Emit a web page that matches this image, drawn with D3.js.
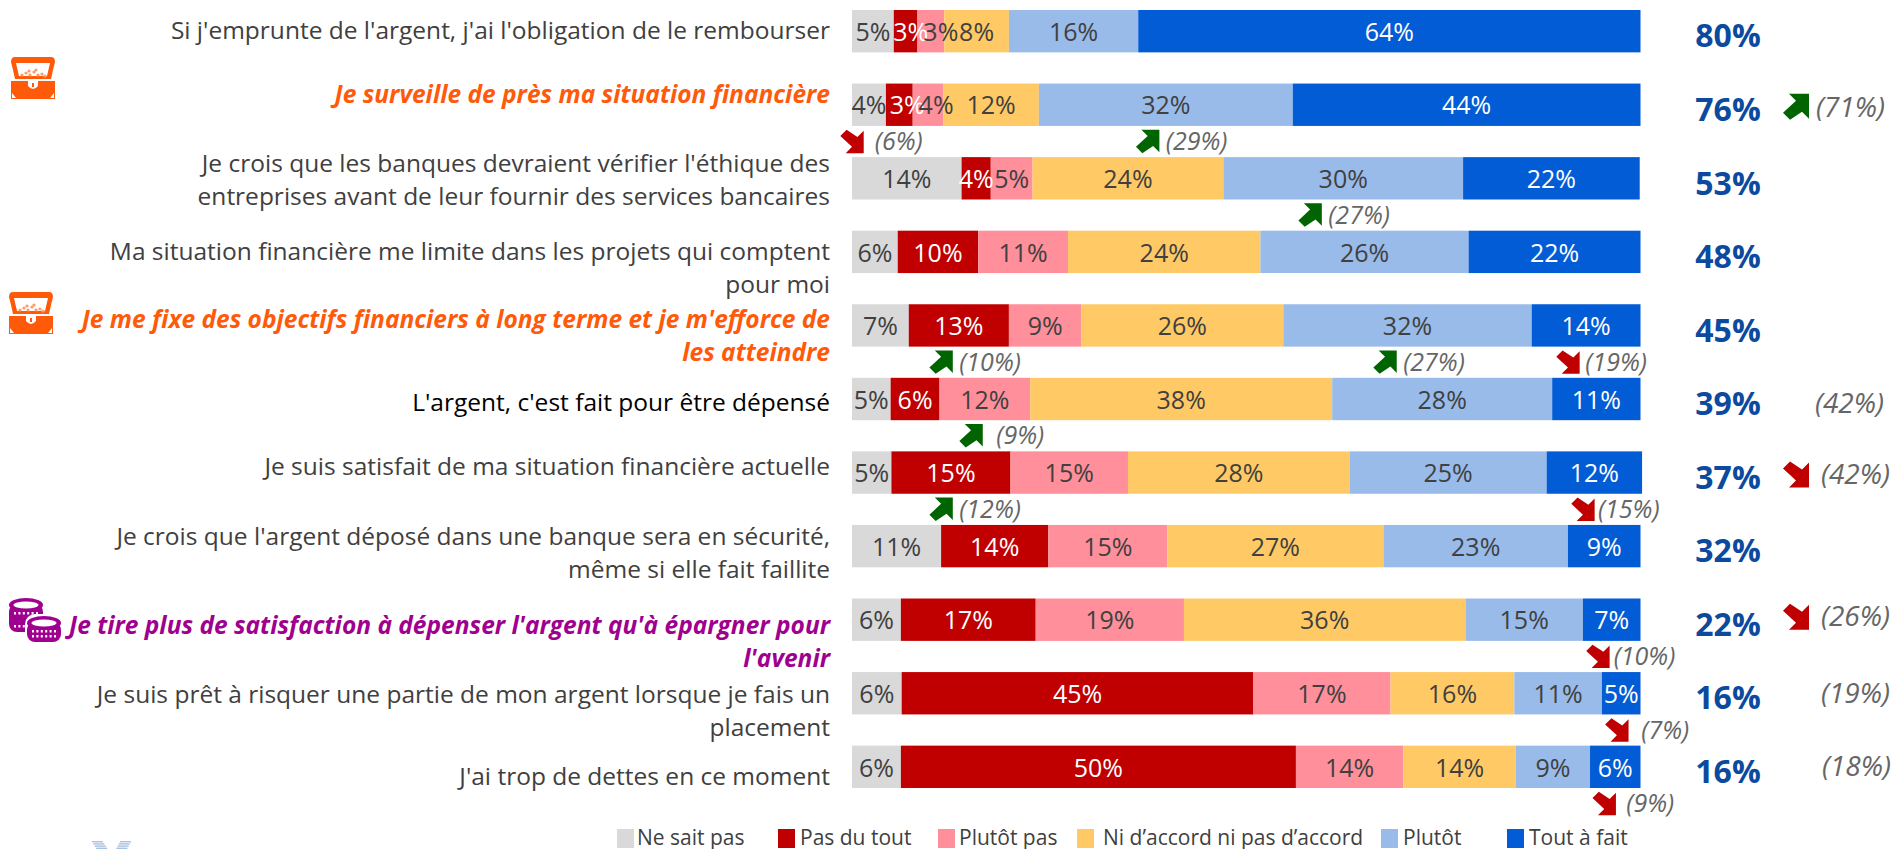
<!DOCTYPE html>
<html>
<head>
<meta charset="utf-8">
<script src="https://cdn.jsdelivr.net/npm/d3@7"></script>
<style>
  html, body { margin: 0; padding: 0; background: #fff; overflow: hidden; }
  text { font-family: "Open Sans", sans-serif; }
</style>
</head>
<body>
<script>
var width = 1897, height = 849;

var seriesNames = ["Ne sait pas", "Pas du tout", "Plutôt pas", "Ni d’accord ni pas d’accord", "Plutôt", "Tout à fait"];
var seriesColors = ["#d9d9d9", "#c00000", "#ff8f9b", "#ffca66", "#99bbea", "#025cd6"];
var labelColors = ["#404040", "#ffffff", "#404040", "#404040", "#404040", "#ffffff"];

var rowLabels = [
  ["Si j'emprunte de l'argent, j'ai l'obligation de le rembourser"],
  ["Je surveille de près ma situation financière"],
  ["Je crois que les banques devraient vérifier l'éthique des", "entreprises avant de leur fournir des services bancaires"],
  ["Ma situation financière me limite dans les projets qui comptent", "pour moi"],
  ["Je me fixe des objectifs financiers à long terme et je m'efforce de", "les atteindre"],
  ["L'argent, c'est fait pour être dépensé"],
  ["Je suis satisfait de ma situation financière actuelle"],
  ["Je crois que l'argent déposé dans une banque sera en sécurité,", "même si elle fait faillite"],
  ["Je tire plus de satisfaction à dépenser l'argent qu'à épargner pour", "l'avenir"],
  ["Je suis prêt à risquer une partie de mon argent lorsque je fais un", "placement"],
  ["J'ai trop de dettes en ce moment"]
];

// shares per row, same order as seriesNames
var rowValues = [
  [5.3, 3.0, 3.4, 8.2, 16.4, 63.7],
  [4.3, 3.4, 3.9, 12.1, 32.2, 44.1],
  [13.9, 3.7, 5.3, 24.2, 30.4, 22.4],
  [5.8, 10.2, 11.4, 24.4, 26.4, 21.8],
  [7.2, 12.7, 9.2, 25.6, 31.5, 13.8],
  [4.9, 6.2, 11.5, 38.3, 27.9, 11.2],
  [5.0, 15.1, 14.9, 28.1, 25.0, 12.1],
  [11.3, 13.6, 15.1, 27.4, 23.4, 9.2],
  [6.2, 17.1, 18.8, 35.7, 14.9, 7.3],
  [6.3, 44.6, 17.4, 15.7, 11.1, 4.9],
  [6.2, 50.1, 13.6, 14.3, 9.4, 6.4]
];

var topTwo = [80, 76, 53, 48, 45, 39, 37, 32, 22, 16, 16];

// earlier wave, under the bars
var deltaRow = [1, 1, 2, 4, 4, 4, 5, 6, 6, 8, 9, 10];
var deltaPrev = [6, 29, 27, 10, 27, 19, 9, 12, 15, 10, 7, 9];
var deltaDir = ["down", "up", "up", "up", "up", "down", "up", "up", "down", "down", "down", "down"];
var deltaArrowAt = [0, 37.5, 58.1, 11.3, 67.6, 90.8, 15.1, 11.3, 92.7, 94.6, 97, 95.4];
var deltaTextAt = [2.9, 39.8, 60.4, 13.6, 69.9, 93, 18.3, 13.6, 94.6, 96.6, 100.1, 98.2];

// earlier wave of the top-two score, right column
var compareRow = [1, 5, 6, 8, 9, 10];
var comparePrev = [71, 42, 42, 26, 19, 18];
var compareDir = ["up", null, "down", "down", null, null];

var rowColor = ["#404040", "#ff5a0a", "#404040", "#404040", "#ff5a0a", "#000000", "#404040", "#404040", "#a0008f", "#404040", "#404040"];
var rowItalic = [0, 1, 0, 0, 1, 0, 0, 0, 1, 0, 0];
var rowLabelDy = [-1, -10, -15, 0, -6, 3, -6, -10, 6, 1, 10];
var compareEnd = [1885, 1884, 1890, 1890, 1890, 1891];
var compareDy = [2, 4, 2, -3, 0, -1];

var legendSwatchX = [617, 778, 938, 1077, 1381, 1507];
var legendTextX = [637, 800, 959, 1103, 1403, 1529];

// the tiny segments' labels sit off centre in the first two rows
var labelNudge = { "0-1": 5, "0-2": 10, "1-1": 8, "1-2": 8 };

var svg = d3.select("body").append("svg")
    .attr("width", width)
    .attr("height", height);

var x = d3.scaleLinear().domain([0, 100]).range([852, 1640.5]);
var y = d3.scaleBand()
    .domain(d3.range(rowLabels.length))
    .range([10, 788])
    .paddingInner(0.424)
    .paddingOuter(0);

var stack = d3.stack()
    .keys(d3.range(seriesNames.length))
    .value(function (d, k) { return d[k]; });
var layers = stack(rowValues);

// bars
var layer = svg.selectAll(".layer")
    .data(layers)
  .enter().append("g")
    .attr("class", "layer");

layer.selectAll("rect")
    .data(function (d) { return d; })
  .enter().append("rect")
    .attr("x", function (d) { return x(d[0]); })
    .attr("y", function (d, i) { return y(i); })
    .attr("width", function (d) { return x(d[1]) - x(d[0]); })
    .attr("height", y.bandwidth())
    .style("fill", function () { return seriesColors[d3.select(this.parentNode).datum().key]; });

// labels go on a layer of their own so the narrow bars don't hide them
var labelLayer = svg.selectAll(".labellayer")
    .data(layers)
  .enter().append("g")
    .attr("class", "labellayer");

labelLayer.selectAll("text")
    .data(function (d) { return d; })
  .enter().append("text")
    .attr("x", function (d, i) {
      var k = d3.select(this.parentNode).datum().key;
      return x((d[0] + d[1]) / 2) + (labelNudge[i + "-" + k] || 0);
    })
    .attr("y", function (d, i) { return y(i) + y.bandwidth() / 2 + 1; })
    .attr("dy", "0.35em")
    .attr("text-anchor", "middle")
    .style("font-size", "25px")
    .style("fill", function () { return labelColors[d3.select(this.parentNode).datum().key]; })
    .text(function (d) { return Math.round(d[1] - d[0]) + "%"; });

// row labels
var rowLabel = svg.selectAll(".rowlabel")
    .data(rowLabels)
  .enter().append("g")
    .attr("class", "rowlabel")
    .attr("transform", function (d, i) {
      return "translate(830," + (y(i) + y.bandwidth() / 2 + rowLabelDy[i]) + ")";
    });

rowLabel.selectAll("text")
    .data(function (d, i) { return d.map(function (t) { return { t: t, row: i }; }); })
  .enter().append("text")
    .attr("y", function (d, i) { return i * 33; })
    .attr("dy", "0.35em")
    .attr("text-anchor", "end")
    .style("font-size", "24.5px")
    .style("font-style", function (d) { return rowItalic[d.row] ? "italic" : "normal"; })
    .style("font-weight", function (d) { return rowItalic[d.row] ? 700 : 400; })
    .style("fill", function (d) { return rowColor[d.row]; })
    .text(function (d) { return d.t; });

// top-two score
svg.selectAll(".toptwo")
    .data(topTwo)
  .enter().append("text")
    .attr("class", "toptwo")
    .attr("x", 1728)
    .attr("y", function (d, i) { return y(i) + y.bandwidth() / 2 + 5; })
    .attr("dy", "0.35em")
    .attr("text-anchor", "middle")
    .style("font-size", "32px")
    .style("font-weight", 700)
    .style("fill", "#0b4a9e")
    .text(function (d) { return d + "%"; });

// block arrow, 26 wide, drawn pointing up-right
var arrowLine = d3.line();
var arrowPts = [[6, 0], [26, 0], [26, 25], [19, 18], [7, 26], [0, 19], [13, 7]];

function drawArrow(cx, cy, dir, s) {
  var flip = dir == "down" ? -1 : 1;
  svg.append("path")
    .attr("d", arrowLine(arrowPts) + "Z")
    .attr("transform", "translate(" + cx + "," + cy + ") scale(" + s + "," + (s * flip) + ") translate(-13,-13)")
    .style("fill", dir == "down" ? "#c00000" : "#006400");
}

deltaPrev.forEach(function (v, i) {
  var cy = y(deltaRow[i]) + y.bandwidth() + 15.5;
  drawArrow(x(deltaArrowAt[i]), cy, deltaDir[i], 0.9);
  svg.append("text")
    .attr("x", x(deltaTextAt[i]))
    .attr("y", cy)
    .attr("dy", "0.35em")
    .style("font-size", "25px")
    .style("font-style", "italic")
    .style("fill", "#666666")
    .text("(" + v + "%)");
});

comparePrev.forEach(function (v, i) {
  var cy = y(compareRow[i]) + y.bandwidth() / 2 + compareDy[i];
  if (compareDir[i]) drawArrow(1796, cy, compareDir[i], 1);
  svg.append("text")
    .attr("x", compareEnd[i])
    .attr("y", cy)
    .attr("dy", "0.35em")
    .attr("text-anchor", "end")
    .style("font-size", "28px")
    .style("font-style", "italic")
    .style("fill", "#666666")
    .text("(" + v + "%)");
});

// legend
var legend = svg.selectAll(".legend")
    .data(seriesNames)
  .enter().append("g")
    .attr("class", "legend");

legend.append("rect")
    .attr("x", function (d, i) { return legendSwatchX[i]; })
    .attr("y", 829)
    .attr("width", 17)
    .attr("height", 19)
    .style("fill", function (d, i) { return seriesColors[i]; });

legend.append("text")
    .attr("x", function (d, i) { return legendTextX[i]; })
    .attr("y", 838)
    .attr("dy", "0.35em")
    .style("font-size", "21px")
    .style("fill", "#404040")
    .text(function (d) { return d; });

// chest icon
function chest(px, py, col) {
  var g = svg.append("g").attr("transform", "translate(" + px + "," + py + ")");
  g.append("path").attr("d", "M4,0H40Q44,0 44,5L42,13L40,22H4L2,13L0,5Q0,0 4,0Z").style("fill", col);
  g.append("path").attr("d", "M5,6H39L36,19H8Z").style("fill", "#ffffff");
  [[11, 18], [15, 16], [19, 18], [23, 15], [27, 18], [31, 17], [34, 19], [18, 14], [25, 13]].forEach(function (p) {
    g.append("circle").attr("cx", p[0]).attr("cy", p[1]).attr("r", 1.6).style("fill", "#ff9a66");
  });
  g.append("rect").attr("x", 0).attr("y", 24).attr("width", 44).attr("height", 18).style("fill", col);
  g.append("path").attr("d", "M17,24H27V29Q22,35 17,29Z").style("fill", "#ffffff");
  g.append("rect").attr("x", 21).attr("y", 26).attr("width", 2).attr("height", 4).style("fill", col);
  g.append("path").attr("d", "M1,41V36L5,41Z").style("fill", "#ffffff");
  g.append("path").attr("d", "M43,41V36L39,41Z").style("fill", "#ffffff");
}
chest(11, 57, "#ff5a0a");
chest(9, 292, "#ff5a0a");

// coin stacks icon: one tall stack behind, one short in front
function coinStack(g, px, py, h, col) {
  g.append("rect").attr("x", px - 2).attr("y", py - 2).attr("width", 38).attr("height", h + 4).attr("rx", 10).style("fill", "#ffffff");
  g.append("rect").attr("x", px).attr("y", py + 6).attr("width", 34).attr("height", h - 6).attr("rx", 8).style("fill", col);
  g.append("ellipse").attr("cx", px + 17).attr("cy", py + 7).attr("rx", 17).attr("ry", 7).style("fill", col);
  g.append("ellipse").attr("cx", px + 17).attr("cy", py + 7).attr("rx", 12.5).attr("ry", 3.5).style("fill", "#ffffff");
  [py + 14, py + h - 7].forEach(function (rowY) {
    d3.range(6).forEach(function (j) {
      g.append("rect").attr("x", px + 5 + j * 4.4).attr("y", rowY).attr("width", 2).attr("height", 2.5).style("fill", "#ffffff");
    });
  });
}
var coins = svg.append("g").attr("transform", "translate(9,598)");
coinStack(coins, 0, 0, 34, "#a0008f");
coinStack(coins, 18, 18, 26, "#a0008f");

// bit of logo cut by the bottom edge
[0, 2.2, 4.4, 6.6].forEach(function (dy, k) {
  svg.append("rect").attr("x", 92 + k * 1.4).attr("y", 841 + dy).attr("width", 11).attr("height", 1.4).style("fill", "#a9c1e2");
  svg.append("rect").attr("x", 120 - k * 1.2).attr("y", 841 + dy).attr("width", 11).attr("height", 1.4).style("fill", "#a9c1e2");
});
</script>
</body>
</html>
